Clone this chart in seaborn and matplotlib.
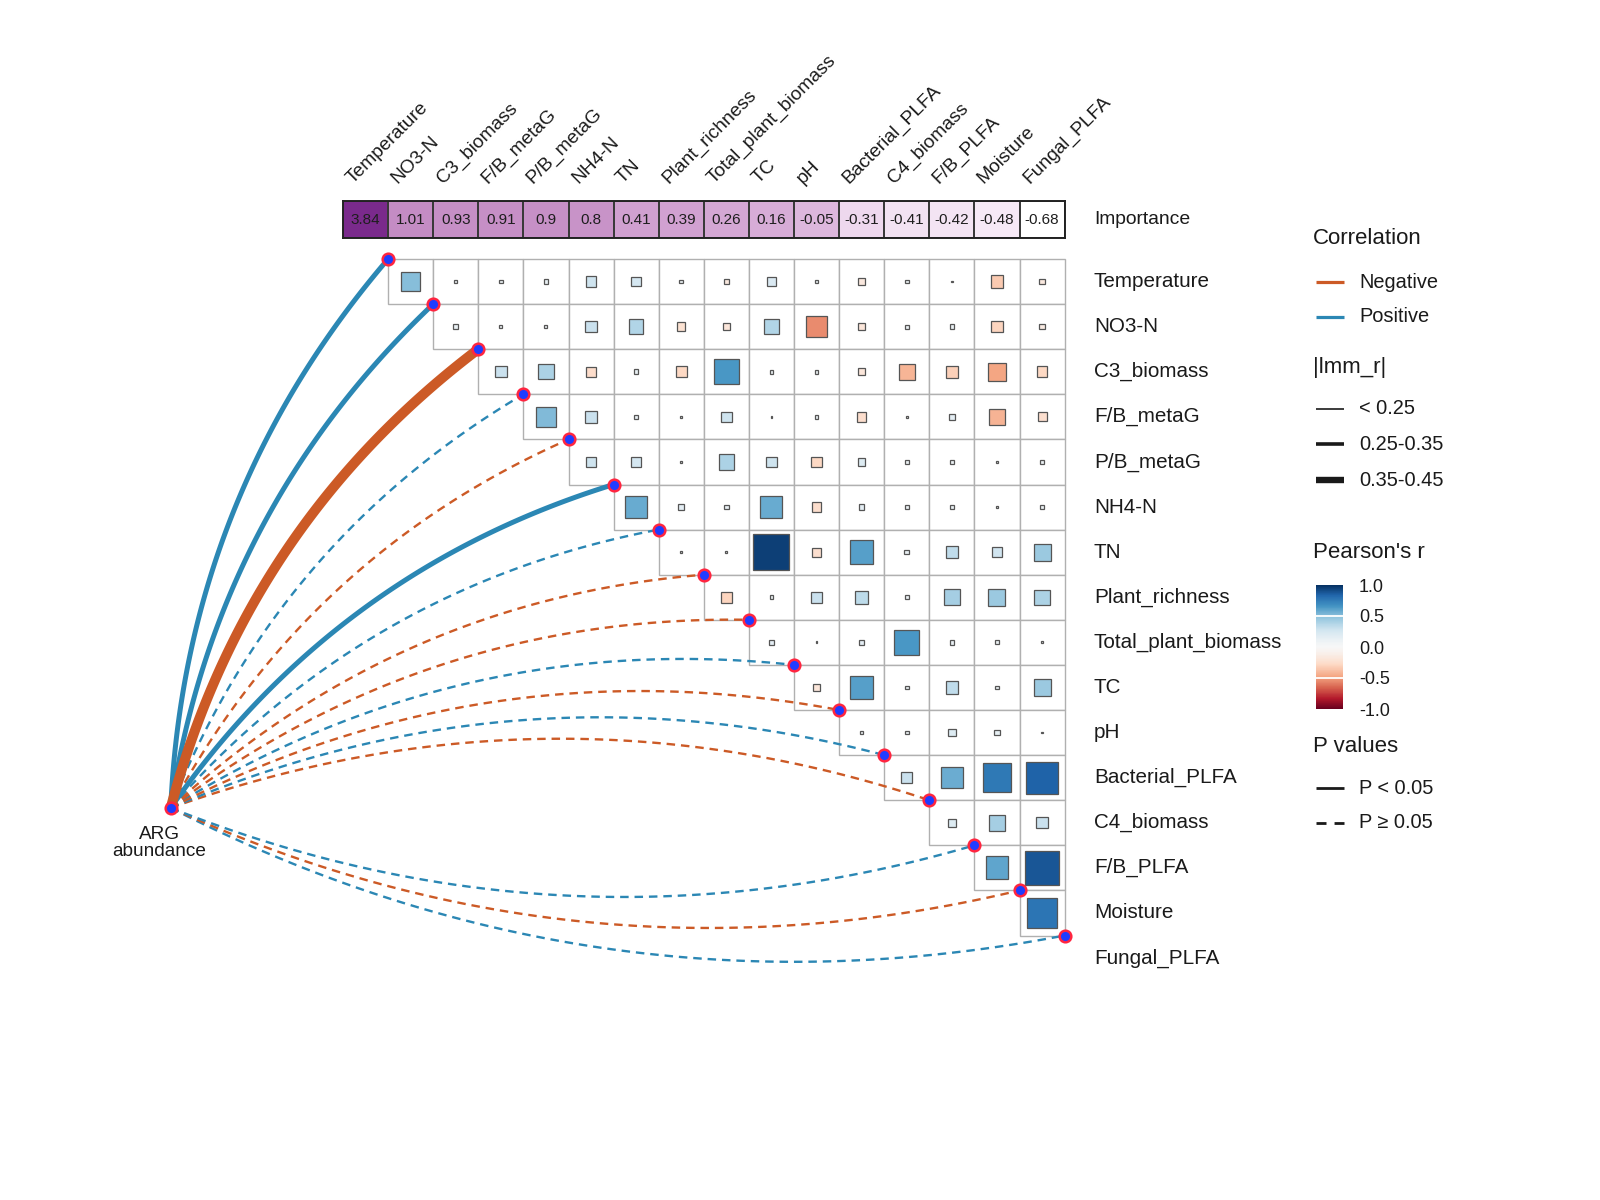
import numpy as np
import pandas as pd
import matplotlib
matplotlib.use("Agg")
import matplotlib.pyplot as plt
import seaborn as sns
from matplotlib.patches import Rectangle
from matplotlib.colors import LinearSegmentedColormap, ListedColormap, Normalize
from matplotlib.cm import ScalarMappable

# ---------------- data ----------------
variables = ["Temperature", "NO3-N", "C3_biomass", "F/B_metaG", "P/B_metaG", "NH4-N",
             "TN", "Plant_richness", "Total_plant_biomass", "TC", "pH",
             "Bacterial_PLFA", "C4_biomass", "F/B_PLFA", "Moisture", "Fungal_PLFA"]
importance = [3.84, 1.01, 0.93, 0.91, 0.9, 0.8, 0.41, 0.39, 0.26, 0.16,
              -0.05, -0.31, -0.41, -0.42, -0.48, -0.68]
# link statistics between ARG abundance and each variable
lmm_r = [0.30, 0.29, -0.40, 0.15, -0.12, 0.28, 0.14, -0.12, -0.11, 0.10,
         -0.10, 0.09, -0.08, 0.08, -0.07, 0.06]
lmm_p = [0.002, 0.004, 0.001, 0.21, 0.33, 0.006, 0.18, 0.35, 0.40, 0.45,
         0.50, 0.55, 0.60, 0.62, 0.70, 0.75]
# Pearson's r, upper triangle: row i holds columns i+1 .. 15
pearson_rows = [
    [0.50, 0.08, 0.10, 0.12, 0.28, 0.25, 0.10, -0.15, 0.22, 0.10, -0.17, 0.10, 0.03, -0.34, -0.15],
    [0.12, 0.08, 0.08, 0.30, 0.38, -0.22, -0.18, 0.38, -0.55, -0.18, 0.10, 0.12, -0.30, -0.14],
    [0.30, 0.40, -0.26, 0.12, -0.28, 0.65, 0.10, 0.10, -0.18, -0.42, -0.32, -0.47, -0.28],
    [0.52, 0.30, 0.12, 0.04, 0.28, 0.02, 0.10, -0.25, -0.05, 0.15, -0.43, -0.24],
    [0.28, 0.25, 0.05, 0.40, 0.28, -0.28, 0.20, 0.10, 0.10, 0.03, 0.10],
    [0.58, 0.15, 0.12, 0.58, -0.25, 0.15, 0.10, 0.12, 0.06, 0.10],
    [0.05, 0.06, 0.95, -0.24, 0.62, 0.12, 0.33, 0.27, 0.45],
    [-0.30, 0.10, 0.30, 0.34, 0.10, 0.42, 0.45, 0.40],
    [0.15, 0.03, 0.15, 0.65, 0.12, 0.10, 0.06],
    [-0.18, 0.62, 0.10, 0.33, 0.10, 0.45],
    [0.08, 0.10, 0.20, 0.14, 0.05],
    [0.30, 0.57, 0.76, 0.84],
    [0.20, 0.42, 0.30],
    [0.60, 0.88],
    [0.78],
]

# ---------------- style ----------------
sns.set_theme(style="white")
plt.rcParams["font.family"] = ["Liberation Sans", "DejaVu Sans"]
plt.rcParams["axes.unicode_minus"] = False
TXT = "#1a1a1a"
POS_COL = "#2b87b4"
NEG_COL = "#cc5a26"

W, H = 1600, 1200
CELL = 45.1
X0, Y0 = 343.0, 259.0

fig = plt.figure(figsize=(16, 12), dpi=100)
ax = fig.add_axes([0, 0, 1, 1])
ax.set_xlim(-X0 / CELL, (W - X0) / CELL)
ax.set_ylim((H - Y0) / CELL, -Y0 / CELL)
ax.axis("off")

n = len(variables)

# ---------------- importance row (seaborn heatmap) ----------------
imp_top, imp_bot = 201, 238
imp_anchor = [(-0.68, "#ffffff"), (-0.31, "#edd6ed"), (-0.05, "#dcb6dc"),
              (0.41, "#d0a0d0"), (1.01, "#c48cc4"), (3.84, "#7a2a8c")]
lo, hi = imp_anchor[0][0], imp_anchor[-1][0]
imp_cmap = LinearSegmentedColormap.from_list(
    "imp", [((v - lo) / (hi - lo), c) for v, c in imp_anchor])
ax_imp = fig.add_axes([X0 / W, 1 - imp_bot / H, n * CELL / W, (imp_bot - imp_top) / H])
imp_df = pd.DataFrame([importance], columns=variables, index=["Importance"])
imp_lab = np.array([[f"{v:g}" for v in importance]])
sns.heatmap(imp_df, ax=ax_imp, cmap=imp_cmap, vmin=lo, vmax=hi, annot=imp_lab, fmt="",
            cbar=False, linewidths=1.2, linecolor="#3a3a3a",
            annot_kws=dict(size=11, color="#1e1e1e"),
            xticklabels=False, yticklabels=False)
for s in ax_imp.spines.values():
    s.set_visible(True)
    s.set_color("#222222")
    s.set_linewidth(1.4)

# ---------------- labels ----------------
for j, name in enumerate(variables):
    ax.text(j + 0.21, -1.66, name, rotation=45, rotation_mode="anchor",
            ha="left", va="baseline", fontsize=13.8, color=TXT)
for i, name in enumerate(variables):
    ax.text(16.65, i + 0.5, name, ha="left", va="center", fontsize=14.9, color=TXT)
ax.text(16.65, ((imp_top + imp_bot) / 2 - Y0) / CELL, "Importance",
        ha="left", va="center", fontsize=13.9, color=TXT)

# ---------------- correlation matrix ----------------
base = plt.get_cmap("RdBu")
xs = np.linspace(-1, 1, 512)
corr_cmap = ListedColormap(base((np.sign(xs) * np.abs(xs) ** 1.25 + 1) / 2))
rnorm = Normalize(-1, 1)
recs = []
for i, row in enumerate(pearson_rows):
    for k, r in enumerate(row):
        recs.append((i, i + 1 + k, r))
corr_df = pd.DataFrame(recs, columns=["row", "col", "r"])
for _, rec in corr_df.iterrows():
    i, j, r = int(rec.row), int(rec.col), rec.r
    ax.add_patch(Rectangle((j, i), 1, 1, facecolor="white", edgecolor="#b0b0b0",
                           lw=1.0, zorder=1))
    side = max(0.84 * abs(r), 0.04)
    ax.add_patch(Rectangle((j + 0.5 - side / 2, i + 0.5 - side / 2), side, side,
                           facecolor=corr_cmap(rnorm(r)), edgecolor="#555555",
                           lw=0.9, zorder=2))

# ---------------- links ----------------
arg_xy = np.array([-3.82, 12.17])
K = 0.086


def width_of(v):
    a = abs(v)
    if a < 0.25:
        return 1.7
    if a < 0.35:
        return 3.6
    return 7.2


order = np.argsort([abs(v) for v in lmm_r])
for i in order:
    r, p = lmm_r[i], lmm_p[i]
    p1 = np.array([i + 1.0, float(i)])
    d = p1 - arg_xy
    L = np.hypot(*d)
    if p1[1] < arg_xy[1]:
        nv = np.array([d[1], -d[0]]) / L
    else:
        nv = np.array([-d[1], d[0]]) / L
    ctrl = (arg_xy + p1) / 2 + 2 * K * L * nv
    t = np.linspace(0, 1, 120)[:, None]
    pts = (1 - t) ** 2 * arg_xy + 2 * t * (1 - t) * ctrl + t ** 2 * p1
    ls = "-" if p < 0.05 else (0, (3.6, 2.5))
    ax.plot(pts[:, 0], pts[:, 1], color=POS_COL if r > 0 else NEG_COL,
            lw=width_of(r), linestyle=ls, solid_capstyle="butt",
            dash_capstyle="butt", zorder=3)

node_x = [i + 1 for i in range(n)] + [arg_xy[0]]
node_y = [i for i in range(n)] + [arg_xy[1]]
ax.scatter(node_x, node_y, s=70, facecolor="#1f3cff", edgecolor="#ff2540",
           linewidth=1.8, zorder=6)
ax.text(arg_xy[0] - 0.26, arg_xy[1] + 0.78, "ARG\nabundance", ha="center",
        va="center", fontsize=13.7, linespacing=0.95, color=TXT)

# ---------------- legends ----------------
lg = fig.add_axes([0, 0, 1, 1])
lg.set_xlim(0, W)
lg.set_ylim(H, 0)
lg.axis("off")
TX, LX0, LX1, IX = 1313, 1316, 1344, 1359


def title(y, s):
    lg.text(TX, y, s, fontsize=16, ha="left", va="center", color=TXT)


def item(y, s, **kw):
    lg.plot([LX0, LX1], [y, y], solid_capstyle="butt", dash_capstyle="butt", **kw)
    lg.text(IX, y, s, fontsize=14.4, ha="left", va="center", color=TXT)


title(239, "Correlation")
item(282, "Negative", color=NEG_COL, lw=2.3)
item(317, "Positive", color=POS_COL, lw=2.3)
title(368, "|lmm_r|")
item(409, "< 0.25", color="#1a1a1a", lw=1.2)
item(444, "0.25-0.35", color="#1a1a1a", lw=2.6)
item(480, "0.35-0.45", color="#1a1a1a", lw=4.6)
title(553, "Pearson's r")
title(746, "P values")
item(788, "P < 0.05", color="#1a1a1a", lw=2.0)
item(823, "P \u2265 0.05", color="#1a1a1a", lw=2.0, linestyle=(0, (3.6, 2.9)))

cax = fig.add_axes([1316 / W, 1 - 709 / H, 27 / W, 124 / H])
cb = fig.colorbar(ScalarMappable(norm=rnorm, cmap=corr_cmap), cax=cax,
                  ticks=[-1, -0.5, 0, 0.5, 1])
cb.ax.set_yticklabels(["-1.0", "-0.5", "0.0", "0.5", "1.0"])
cb.outline.set_visible(False)
cax.tick_params(length=0, labelsize=13, pad=11.5, colors=TXT)
for v in (-0.5, 0.5):
    cax.axhline(v, color="white", lw=1.3)

fig.savefig("out.png", dpi=100, facecolor="white")
